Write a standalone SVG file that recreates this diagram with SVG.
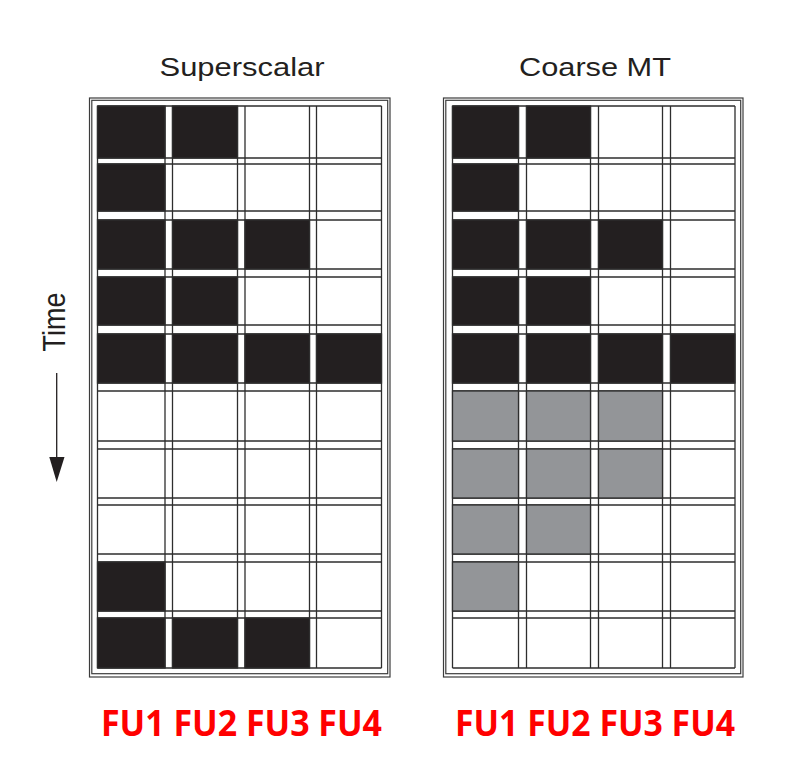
<svg xmlns="http://www.w3.org/2000/svg" width="792" height="776" viewBox="0 0 792 776">
<style>
.title{font-family:"Liberation Sans",Arial,sans-serif;font-size:26px;fill:#231f20;text-anchor:middle}
.fu{font-family:"Open Sans","Liberation Sans",sans-serif;font-weight:bold;font-size:36px;fill:#ff0000}
.frame{fill:none;stroke:#3c3c3c;stroke-width:1.2}
.gl{stroke:#2e2e2e;stroke-width:1.3;fill:none}
.c{stroke:#2e2e2e;stroke-width:1.3}
.b{fill:#231f20}
.g{fill:#939598}
.w{fill:#ffffff}
</style>
<rect width="792" height="776" fill="#ffffff"/>
<text class="title" x="242" y="76" textLength="165" lengthAdjust="spacingAndGlyphs">Superscalar</text>
<text class="title" x="595" y="76" textLength="152" lengthAdjust="spacingAndGlyphs">Coarse MT</text>
<g id="time-axis">
<text transform="translate(65,322) scale(1.15,1) rotate(-90)" text-anchor="middle" style="font-family:'Liberation Sans',Arial,sans-serif;font-size:27px;fill:#231f20">Time</text>
<line x1="56.7" y1="373" x2="56.7" y2="460" stroke="#231f20" stroke-width="1.3"/>
<polygon points="49.3,457 64.5,457 56.7,482" fill="#231f20"/>
</g>
<g id="superscalar">
<rect class="frame" x="89.5" y="98" width="300.5" height="579"/>
<rect class="frame" x="91.8" y="100.3" width="295.9" height="573.4"/>
<g id="ss-grid" class="gl">
<path d="M97.5 106V668M165 106V668M172.5 106V668M237.5 106V668M245 106V668M309.5 106V668M316.5 106V668M381.5 106V668"/>
<path d="M97.5 106H381.5M97.5 158H381.5M97.5 164H381.5M97.5 211H381.5M97.5 220H381.5M97.5 269H381.5M97.5 277H381.5M97.5 325H381.5M97.5 334H381.5M97.5 383H381.5M97.5 391H381.5M97.5 441H381.5M97.5 449H381.5M97.5 498H381.5M97.5 505H381.5M97.5 554H381.5M97.5 562H381.5M97.5 611H381.5M97.5 618H381.5M97.5 668H381.5"/>
</g>
<g id="ss-cells">
<rect class="c b" x="97.5" y="106" width="67.5" height="52"/><rect class="c b" x="172.5" y="106" width="65" height="52"/>
<rect class="c b" x="97.5" y="164" width="67.5" height="47"/>
<rect class="c b" x="97.5" y="220" width="67.5" height="49"/><rect class="c b" x="172.5" y="220" width="65" height="49"/><rect class="c b" x="245" y="220" width="64.5" height="49"/>
<rect class="c b" x="97.5" y="277" width="67.5" height="48"/><rect class="c b" x="172.5" y="277" width="65" height="48"/>
<rect class="c b" x="97.5" y="334" width="67.5" height="49"/><rect class="c b" x="172.5" y="334" width="65" height="49"/><rect class="c b" x="245" y="334" width="64.5" height="49"/><rect class="c b" x="316.5" y="334" width="65" height="49"/>
<rect class="c b" x="97.5" y="562" width="67.5" height="49"/>
<rect class="c b" x="97.5" y="618" width="67.5" height="50"/><rect class="c b" x="172.5" y="618" width="65" height="50"/><rect class="c b" x="245" y="618" width="64.5" height="50"/>
</g>
</g>
<g id="coarse-mt">
<rect class="frame" x="443.5" y="98" width="299.5" height="579"/>
<rect class="frame" x="445.8" y="100.3" width="294.9" height="573.4"/>
<g id="cmt-grid" class="gl">
<path d="M452.5 106V668M518.5 106V668M526.5 106V668M590.5 106V668M598.5 106V668M662.5 106V668M670.5 106V668M735 106V668"/>
<path d="M452.5 106H735M452.5 158H735M452.5 164H735M452.5 211H735M452.5 220H735M452.5 269H735M452.5 277H735M452.5 325H735M452.5 334H735M452.5 383H735M452.5 391H735M452.5 441H735M452.5 449H735M452.5 498H735M452.5 505H735M452.5 554H735M452.5 562H735M452.5 611H735M452.5 618H735M452.5 668H735"/>
</g>
<g id="cmt-cells">
<rect class="c b" x="452.5" y="106" width="66" height="52"/><rect class="c b" x="526.5" y="106" width="64" height="52"/>
<rect class="c b" x="452.5" y="164" width="66" height="47"/>
<rect class="c b" x="452.5" y="220" width="66" height="49"/><rect class="c b" x="526.5" y="220" width="64" height="49"/><rect class="c b" x="598.5" y="220" width="64" height="49"/>
<rect class="c b" x="452.5" y="277" width="66" height="48"/><rect class="c b" x="526.5" y="277" width="64" height="48"/>
<rect class="c b" x="452.5" y="334" width="66" height="49"/><rect class="c b" x="526.5" y="334" width="64" height="49"/><rect class="c b" x="598.5" y="334" width="64" height="49"/><rect class="c b" x="670.5" y="334" width="64.5" height="49"/>
<rect class="c g" x="452.5" y="391" width="66" height="50"/><rect class="c g" x="526.5" y="391" width="64" height="50"/><rect class="c g" x="598.5" y="391" width="64" height="50"/>
<rect class="c g" x="452.5" y="449" width="66" height="49"/><rect class="c g" x="526.5" y="449" width="64" height="49"/><rect class="c g" x="598.5" y="449" width="64" height="49"/>
<rect class="c g" x="452.5" y="505" width="66" height="49"/><rect class="c g" x="526.5" y="505" width="64" height="49"/>
<rect class="c g" x="452.5" y="562" width="66" height="49"/>
</g>
</g>
<text class="fu" x="101" y="736" textLength="281" lengthAdjust="spacingAndGlyphs">FU1 FU2 FU3 FU4</text>
<text class="fu" x="455" y="736" textLength="280" lengthAdjust="spacingAndGlyphs">FU1 FU2 FU3 FU4</text>
</svg>
